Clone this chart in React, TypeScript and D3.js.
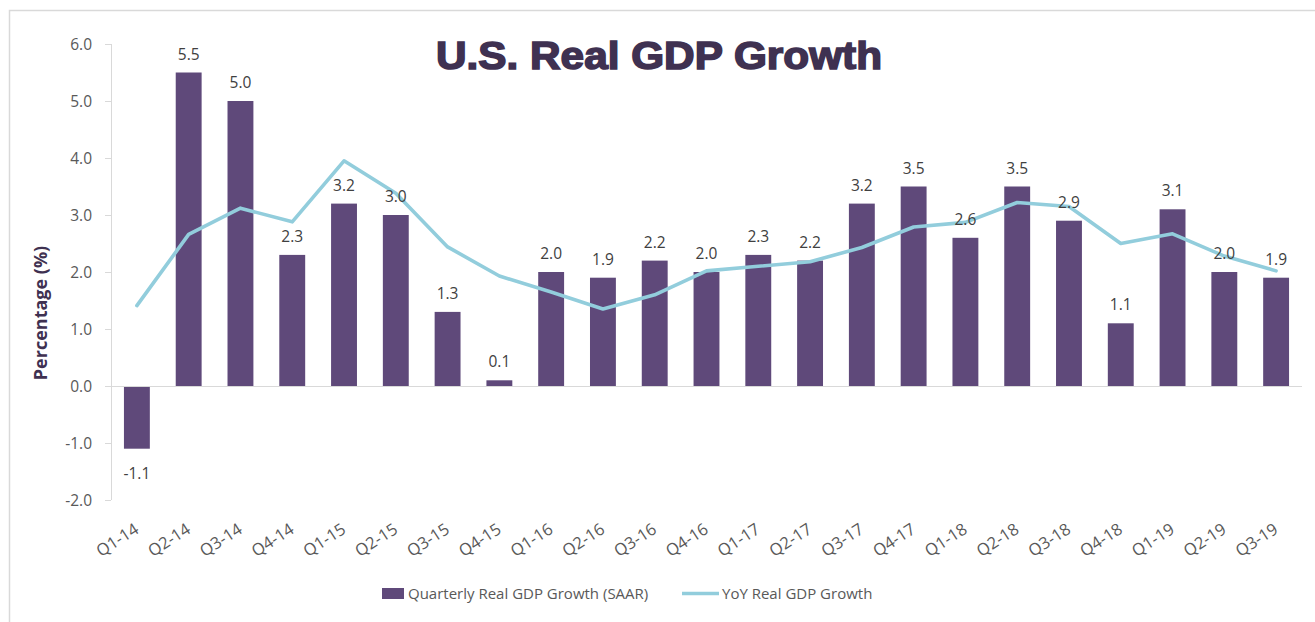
import React from "react";
import * as d3 from "d3";

const categories = ["Q1-14","Q2-14","Q3-14","Q4-14","Q1-15","Q2-15","Q3-15","Q4-15","Q1-16","Q2-16","Q3-16","Q4-16","Q1-17","Q2-17","Q3-17","Q4-17","Q1-18","Q2-18","Q3-18","Q4-18","Q1-19","Q2-19","Q3-19"];
const quarterly = [-1.1,5.5,5.0,2.3,3.2,3.0,1.3,0.1,2.0,1.9,2.2,2.0,2.3,2.2,3.2,3.5,2.6,3.5,2.9,1.1,3.1,2.0,1.9];
const yoy = [1.41,2.66,3.12,2.88,3.95,3.38,2.44,1.93,1.65,1.35,1.6,2.02,2.1,2.18,2.43,2.79,2.87,3.22,3.15,2.5,2.67,2.28,2.02];
const yTicks = [-2,-1,0,1,2,3,4,5,6];

const W = 1315, H = 622;
const plotLeft = 111, plotRight = 1302, plotTop = 44, plotBottom = 500;
const BAR = "#5F497A", LINE = "#92CDDC", TITLE = "#3F3151", TXT = "#595959", LBL = "#404040", AXIS = "#D9D9D9";
const FONT = "'Open Sans', 'Noto Sans', sans-serif";

export default function App() {
  const x = d3.scaleBand<string>().domain(categories).range([plotLeft, plotRight]).paddingInner(0.5).paddingOuter(0.25);
  const y = d3.scaleLinear().domain([-2, 6]).range([plotBottom, plotTop]);
  const cx = (c: string) => (x(c) as number) + x.bandwidth() / 2;
  const line = d3.line<number>().x((_, i) => cx(categories[i])).y((v) => y(v));

  return (
    <svg width={W} height={H} style={{ position: "absolute", left: 0, top: 0, background: "#fff" }}>
      <rect x={9.5} y={10.5} width={W + 20} height={H + 20} fill="#fff" stroke={AXIS} strokeWidth={1.5} />
      <text x={659} y={69} textAnchor="middle" fontFamily="'Liberation Sans', Arial, sans-serif" fontWeight={700} fontSize={39}
        fill={TITLE} stroke={TITLE} strokeWidth={1.6} textLength={446} lengthAdjust="spacingAndGlyphs">U.S. Real GDP Growth</text>

      {/* y axis */}
      <line x1={plotLeft + 0.5} x2={plotLeft + 0.5} y1={plotTop} y2={plotBottom} stroke={AXIS} />
      {yTicks.map((t) => (
        <g key={t}>
          <line x1={plotLeft - 6} x2={plotLeft} y1={Math.round(y(t)) + 0.5} y2={Math.round(y(t)) + 0.5} stroke={AXIS} />
          <text x={92} y={y(t) + 5.5} textAnchor="end" fontFamily={FONT} fontSize={15.5} fill={TXT}>{t.toFixed(1)}</text>
        </g>
      ))}
      <text transform={`translate(47,313) rotate(-90)`} textAnchor="middle" fontFamily={FONT} fontWeight={700} fontSize={18} fill={TITLE}>Percentage (%)</text>

      {/* bars */}
      {quarterly.map((v, i) => {
        const c = categories[i];
        const y0 = y(0), y1 = y(v);
        return <rect key={c} x={x(c)} width={x.bandwidth()} y={Math.min(y0, y1)} height={Math.abs(y1 - y0)} fill={BAR} />;
      })}
      <line x1={plotLeft} x2={plotRight} y1={Math.round(y(0)) + 0.5} y2={Math.round(y(0)) + 0.5} stroke={AXIS} />

      {/* yoy line */}
      <path d={line(yoy) || ""} fill="none" stroke={LINE} strokeWidth={3.6} strokeLinejoin="round" strokeLinecap="round" />

      {/* data labels */}
      {quarterly.map((v, i) => {
        const c = categories[i];
        const ly = v >= 0 ? y(v) - 13 : y(v) + 30;
        return <text key={c} x={cx(c)} y={ly} textAnchor="middle" fontFamily={FONT} fontSize={15.5} fill={LBL}>{v.toFixed(1)}</text>;
      })}

      {/* x labels */}
      {categories.map((c) => (
        <text key={c} transform={`translate(${cx(c) + 3},${532}) rotate(-33)`} textAnchor="end" fontFamily={FONT} fontSize={16.5} fill={TXT}>{c}</text>
      ))}

      {/* legend */}
      <rect x={382} y={588} width={22} height={11} fill={BAR} />
      <text x={408} y={598.5} fontFamily={FONT} fontSize={15} fill={TXT}>Quarterly Real GDP Growth (SAAR)</text>
      <line x1={682} x2={719} y1={593.5} y2={593.5} stroke={LINE} strokeWidth={3.6} />
      <text x={722} y={598.5} fontFamily={FONT} fontSize={15} fill={TXT}>YoY Real GDP Growth</text>
    </svg>
  );
}
